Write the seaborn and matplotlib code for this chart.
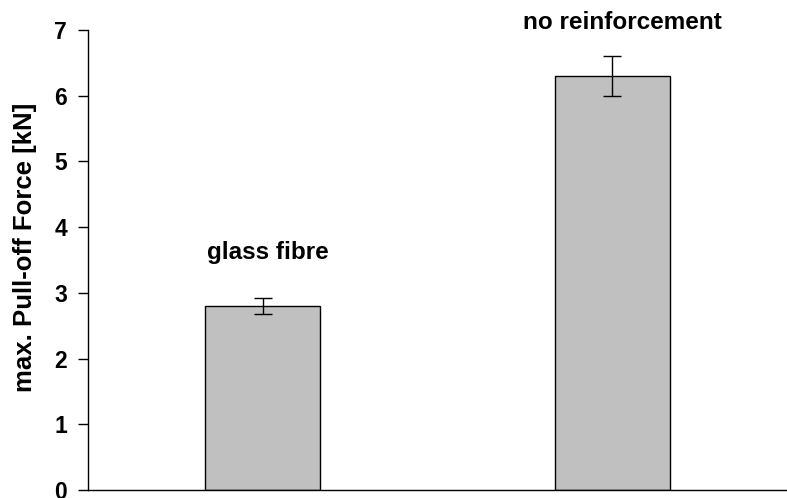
import matplotlib
matplotlib.use("Agg")
import matplotlib.pyplot as plt
import seaborn as sns
import pandas as pd

categories = ["glass fibre", "no reinforcement"]
values = [2.80, 6.30]
errors = [0.12, 0.31]
label_y = [3.62, 7.12]
label_dx = [0.016, 0.03]
yticks = [0, 1, 2, 3, 4, 5, 6, 7]
ylabel = "max. Pull-off Force [kN]"

sns.set_theme(style="white")
plt.rcParams['font.family'] = ['Liberation Sans', 'DejaVu Sans']
plt.rcParams['font.weight'] = 'bold'
plt.rcParams['text.color'] = 'black'
plt.rcParams['axes.labelcolor'] = 'black'
plt.rcParams['ytick.color'] = 'black'

df = pd.DataFrame({"cat": categories, "val": values})
fig = plt.figure(figsize=(7.87, 4.98), dpi=100)
ax = fig.add_axes([88/787, 8/498, 699/787, 460/498])
sns.barplot(data=df, x="cat", y="val", color="#c0c0c0", saturation=1,
            width=0.33, edgecolor="black", linewidth=1.0, ax=ax, errorbar=None)
ax.errorbar(range(len(values)), values, yerr=errors, fmt="none",
            ecolor="black", elinewidth=1.0, capsize=6.5, capthick=1.0)
for i, (c, ly, dx) in enumerate(zip(categories, label_y, label_dx)):
    ax.text(i + dx, ly, c, ha="center", va="center", fontsize=17.5,
            fontweight="bold", color="black", clip_on=False)
ax.set_xlim(-0.5, 1.5)
ax.set_ylim(0, 7)
ax.set_yticks(yticks)
ax.set_yticklabels([str(t) for t in yticks], fontsize=16.5, fontweight="bold",
                   color="black")
ax.set_xticks([])
ax.set_xlabel("")
ax.set_ylabel("")
fig.text(25/787, 1 - 247/498, ylabel, rotation=90, ha="center", va="center",
         fontsize=18.5, fontweight="bold", color="black")
for s in ["top", "right"]:
    ax.spines[s].set_visible(False)
for s in ["left", "bottom"]:
    ax.spines[s].set_color("black")
    ax.spines[s].set_linewidth(1.0)
ax.tick_params(axis="y", direction="out", length=7, width=1.0, color="black",
               left=True, pad=8)
fig.savefig("out.png", dpi=100)
